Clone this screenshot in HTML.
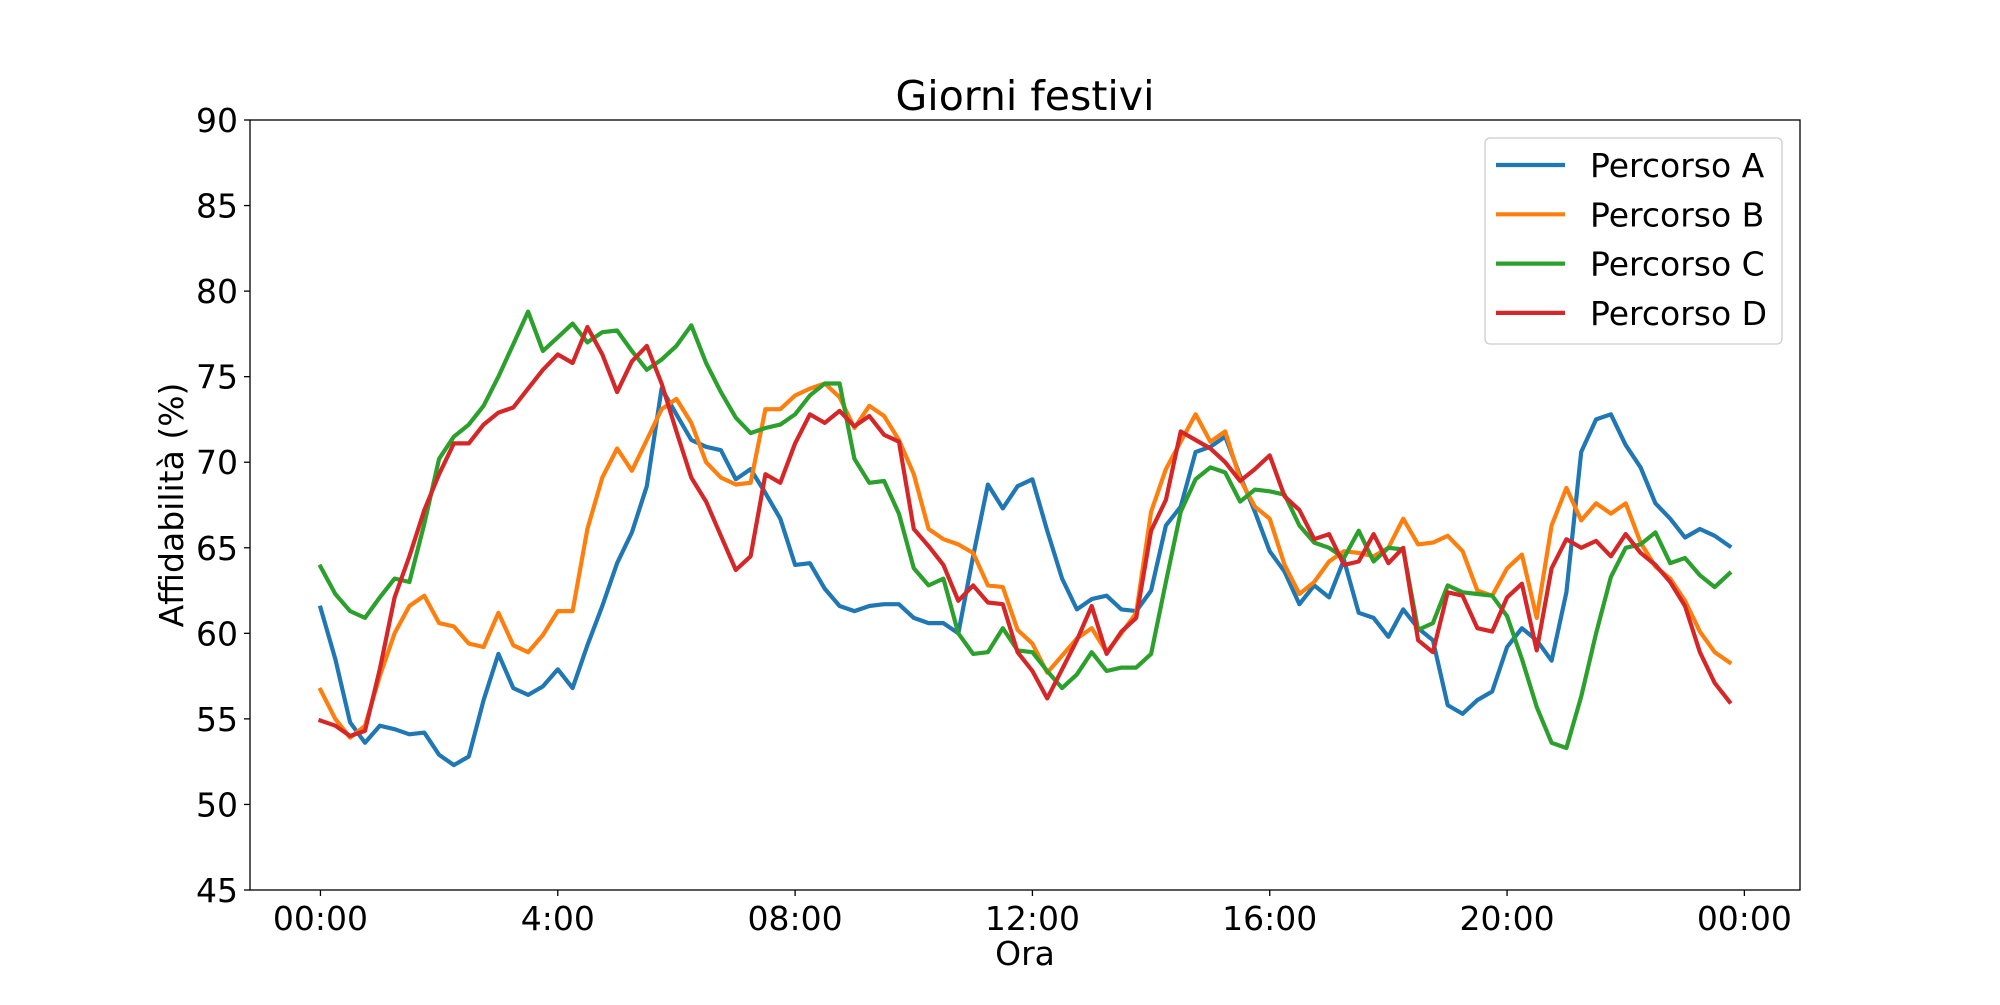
<!DOCTYPE html>
<html><head><meta charset="utf-8"><style>
html,body{margin:0;padding:0;background:#fff}
svg text{font-family:"DejaVu Sans","Liberation Sans",sans-serif;fill:#000}
</style></head><body>
<svg id="chart" width="2000" height="1000" xmlns="http://www.w3.org/2000/svg">
<rect width="2000" height="1000" fill="#fff"/>
<text x="1025" y="110" font-size="41" text-anchor="middle">Giorni festivi</text>
<g id="plot"></g>
<rect x="250" y="120" width="1550" height="770" fill="none" stroke="#000" stroke-width="1.3"/>
<g id="ticks"></g>
<text x="1025" y="965" font-size="33" text-anchor="middle">Ora</text>
<text transform="translate(183,505) rotate(-90)" font-size="33" text-anchor="middle">Affidabilità (%)</text>
<g id="legend"></g>
</svg>
<script>
const seriesNames = ["Percorso A","Percorso B","Percorso C","Percorso D"];
const seriesColors = ["#1f77b4","#ff7f0e","#2ca02c","#d62728"];
const seriesA = [61.5,58.5,54.8,53.6,54.6,54.4,54.1,54.2,52.9,52.3,52.8,56.1,58.8,56.8,56.4,56.9,57.9,56.8,59.3,61.6,64.1,65.9,68.6,74.3,72.8,71.3,70.9,70.7,69.0,69.6,68.2,66.7,64.0,64.1,62.6,61.6,61.3,61.6,61.7,61.7,60.9,60.6,60.6,60.0,64.5,68.7,67.3,68.6,69.0,66.0,63.2,61.4,62.0,62.2,61.4,61.3,62.5,66.3,67.4,70.6,70.9,71.5,69.2,67.1,64.8,63.6,61.7,62.8,62.1,64.3,61.2,60.9,59.8,61.4,60.3,59.6,55.8,55.3,56.1,56.6,59.2,60.3,59.6,58.4,62.4,70.6,72.5,72.8,71.0,69.7,67.6,66.7,65.6,66.1,65.7,65.1];
const seriesB = [56.7,55.0,53.9,54.6,57.5,60.0,61.6,62.2,60.6,60.4,59.4,59.2,61.2,59.3,58.9,59.9,61.3,61.3,66.1,69.1,70.8,69.5,71.3,73.1,73.7,72.3,70.0,69.1,68.7,68.8,73.1,73.1,73.9,74.3,74.6,73.8,72.0,73.3,72.7,71.3,69.3,66.1,65.5,65.2,64.7,62.8,62.7,60.2,59.4,57.7,58.7,59.7,60.3,58.9,60.0,61.2,67.1,69.6,71.2,72.8,71.2,71.8,69.0,67.4,66.7,64.0,62.3,63.0,64.2,64.8,64.7,64.5,65.0,66.7,65.2,65.3,65.7,64.8,62.5,62.2,63.8,64.6,60.9,66.3,68.5,66.6,67.6,67.0,67.6,65.3,63.9,63.2,61.9,60.1,58.9,58.3];
const seriesC = [63.9,62.3,61.3,60.9,62.1,63.2,63.0,66.4,70.2,71.5,72.2,73.3,75.0,76.9,78.8,76.5,77.3,78.1,77.0,77.6,77.7,76.5,75.4,76.0,76.8,78.0,75.8,74.1,72.6,71.7,72.0,72.2,72.8,73.9,74.6,74.6,70.2,68.8,68.9,67.0,63.8,62.8,63.2,60.0,58.8,58.9,60.3,59.0,58.9,57.8,56.8,57.6,58.9,57.8,58.0,58.0,58.8,63.0,67.1,69.0,69.7,69.4,67.7,68.4,68.3,68.1,66.3,65.3,65.0,64.4,66.0,64.2,65.0,64.9,60.2,60.6,62.8,62.4,62.3,62.2,61.0,58.5,55.7,53.6,53.3,56.3,60.0,63.3,65.0,65.2,65.9,64.1,64.4,63.4,62.7,63.5];
const seriesD = [54.9,54.6,54.0,54.3,57.9,62.1,64.5,67.2,69.3,71.1,71.1,72.2,72.9,73.2,74.3,75.4,76.3,75.8,77.9,76.3,74.1,75.9,76.8,74.6,71.8,69.1,67.7,65.7,63.7,64.5,69.3,68.8,71.1,72.8,72.3,73.0,72.1,72.7,71.6,71.2,66.1,65.1,64.0,61.9,62.8,61.8,61.7,58.9,57.8,56.2,57.9,59.6,61.6,58.8,60.1,60.9,66.0,67.8,71.8,71.3,70.8,70.0,68.9,69.6,70.4,68.0,67.2,65.5,65.8,64.0,64.2,65.8,64.1,65.0,59.6,58.9,62.4,62.2,60.3,60.1,62.1,62.9,59.0,63.8,65.5,65.0,65.4,64.5,65.8,64.7,64.0,63.0,61.6,58.9,57.1,56.0];
const xTickHours = [0,4,8,12,16,20,24];
const xTickLabels = ["00:00","4:00","08:00","12:00","16:00","20:00","00:00"];
const yTicks = [45,50,55,60,65,70,75,80,85,90];

const NS = "http://www.w3.org/2000/svg";
const L=250,R=1800,T=120,B=890;
const xMin=-1.1875, xMax=24.9375, yMin=45, yMax=90;
const xs = h => L + (h - xMin)/(xMax - xMin)*(R-L);
const ys = v => B - (v - yMin)/(yMax - yMin)*(B-T);
function mk(tag, attrs, parent){const e=document.createElementNS(NS,tag);for(const k in attrs)e.setAttribute(k,attrs[k]);parent.appendChild(e);return e;}

const plot=document.getElementById('plot');
const all=[seriesA,seriesB,seriesC,seriesD];
all.forEach((s,si)=>{
  const pts=s.map((v,i)=>xs(i*0.25).toFixed(1)+','+ys(v).toFixed(1)).join(' ');
  const pl=mk('polyline',{points:pts,fill:'none',stroke:seriesColors[si],'stroke-width':4.2,'stroke-linejoin':'round','stroke-linecap':'square'},plot);
  
  
});

const tk=document.getElementById('ticks');
xTickHours.forEach((h,i)=>{
  const x=xs(h);
  const ln=mk('line',{x1:x,x2:x,y1:B,y2:B+6,stroke:'#000','stroke-width':1.3},tk);
  
  
  const t=mk('text',{x:x,y:B+40,'font-size':33,'text-anchor':'middle'},tk);
  t.textContent=xTickLabels[i];
  
  
});
yTicks.forEach(v=>{
  const y=ys(v);
  const ln=mk('line',{x1:L-6,x2:L,y1:y,y2:y,stroke:'#000','stroke-width':1.3},tk);
  
  
  const t=mk('text',{x:L-12,y:y+12,'font-size':33,'text-anchor':'end'},tk);
  t.textContent=String(v);
  
  
});

const lg=document.getElementById('legend');
const box=mk('rect',{x:1485,y:138,width:297,height:206,rx:5,fill:'#fff','fill-opacity':0.8,stroke:'#ccc','stroke-width':1.3},lg);


seriesNames.forEach((n,i)=>{
  const y=165+i*49.3;
  const ln=mk('line',{x1:1496,x2:1565,y1:y,y2:y,stroke:seriesColors[i],'stroke-width':4.2},lg);
  
  
  const t=mk('text',{x:1590,y:y+12,'font-size':33},lg);
  t.textContent=n;
  
  
});
</script>
</body></html>
